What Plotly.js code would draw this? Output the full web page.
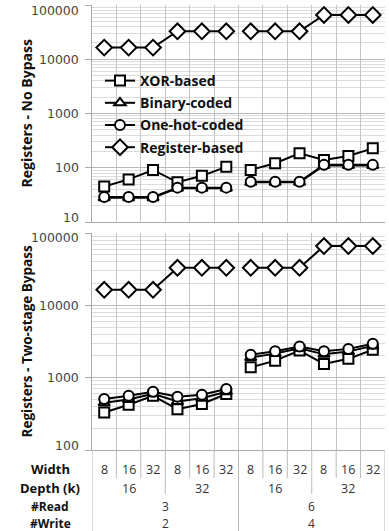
<!DOCTYPE html>
<html><head>
<script src="https://cdn.plot.ly/plotly-3.0.1.min.js"></script>
<style>body{margin:0;background:#fff}</style>
</head><body>
<div id="chart" style="width:389px;height:531px"></div>
<script>
// ---- data ----
const widths = ['8','16','32','8','16','32','8','16','32','8','16','32'];
const depths = ['16','32','16','32'];
const reads  = ['3','6'];
const writes = ['2','4'];
const seriesNames = ['XOR-based','Binary-coded','One-hot-coded','Register-based'];
const symbols = ['square','triangle-up','circle','diamond'];

// Registers - No Bypass
const noBypassXOR      = [45, 61, 91, 54, 71, 104, 91, 121, 185, 139, 165, 228];
const noBypassBinary   = [28, 28, 28, 42, 42, 42, 54, 54, 54, 110, 110, 110];
const noBypassOneHot   = [29, 29, 29, 43, 43, 43, 55, 55, 55, 113, 113, 113];
const noBypassRegister = [16384, 16384, 16384, 32768, 32768, 32768, 32768, 32768, 32768, 65536, 65536, 65536];

// Registers - Two-stage Bypass
const twoStageXOR      = [330, 422, 562, 367, 432, 594, 1390, 1720, 2370, 1550, 1820, 2430];
const twoStageBinary   = [450, 500, 600, 470, 520, 640, 1900, 2150, 2550, 2100, 2300, 2750];
const twoStageOneHot   = [506, 562, 640, 545, 580, 697, 2080, 2320, 2700, 2320, 2500, 2940];
const twoStageRegister = [16400, 16400, 16400, 33000, 33000, 33000, 33000, 33000, 33000, 66000, 66000, 66000];

const topTicks = [10, 100, 1000, 10000, 100000];
const topTickText = ['10','100','1000','10000','100000'];
const botTicks = [100, 1000, 10000, 100000];
const botTickText = ['100','1000','10000','100000'];

// ---- build ----
const idx = widths.map((_, i) => i);
const traces = [];
function addSeries(k, vals, yax, xax, showLeg) {
  const n = widths.length / reads.length;
  for (let g = 0; g < reads.length; g++) {
    traces.push({
      type: 'scatter', mode: 'lines+markers',
      x: idx.slice(g*n, g*n+n), y: vals.slice(g*n, g*n+n),
      xaxis: xax, yaxis: yax,
      name: seriesNames[k], legendgroup: seriesNames[k],
      showlegend: showLeg && g === 0,
      line: {color: '#000', width: 2},
      marker: {symbol: symbols[k], size: k === 3 ? 12 : 10, color: '#fff', line: {color: '#000', width: 2}},
      cliponaxis: false
    });
  }
}
[noBypassXOR, noBypassBinary, noBypassOneHot, noBypassRegister].forEach((v, k) => addSeries(k, v, 'y', 'x', true));
[twoStageXOR, twoStageBinary, twoStageOneHot, twoStageRegister].forEach((v, k) => addSeries(k, v, 'y2', 'x2', false));

const W = 389, H = 531, L = 92, R = 4, T = 5, B = 81;
const ph = H - T - B;
const topDomain = [(450 - 222) / ph, 1];
const botDomain = [0, (450 - 233) / ph];
function py(pix) { return (450 - pix) / ph; }
function px(pix) { return (pix - L) / (W - L - R); }

const gridC = '#c4c4c4';
const xaxisBase = {
  range: [-0.5, widths.length - 0.5], tick0: -0.5, dtick: 1,
  showgrid: true, gridcolor: gridC, gridwidth: 1,
  showticklabels: false, ticks: '', zeroline: false,
  showline: true, linecolor: '#aaa', linewidth: 1
};
function yaxisBase(rng, tv, dom) {
  return {
    type: 'log', range: rng, domain: dom,
    tickvals: tv, showticklabels: false,
    showgrid: true, gridcolor: '#b8b8b8', gridwidth: 1,
    minor: {dtick: 'D1', showgrid: true, gridcolor: '#dcdcdc', gridwidth: 1, ticks: ''},
    ticks: 'outside', ticklen: 6, tickcolor: '#aaa',
    showline: true, linecolor: '#aaa', linewidth: 1,
    zeroline: false
  };
}

const boldFont = s => ({family: 'Open Sans, sans-serif', size: s, color: '#111', weight: 'bold'});
const valFont = {family: 'Open Sans, sans-serif', size: 12.5, color: '#333'};
const smallValFont = {family: 'Open Sans, sans-serif', size: 12, color: '#333'};
const yTickFont = {family: 'DejaVu Sans, sans-serif', size: 12.5, color: '#444'};
const annotations = [
  {text: 'Registers - No Bypass', xref: 'paper', yref: 'paper', x: px(26), y: (topDomain[0]+topDomain[1])/2,
   textangle: -90, showarrow: false, font: boldFont(14), xanchor: 'center', yanchor: 'middle'},
  {text: 'Registers - Two-stage Bypass', xref: 'paper', yref: 'paper', x: px(26), y: (botDomain[0]+botDomain[1])/2,
   textangle: -90, showarrow: false, font: boldFont(13.5), xanchor: 'center', yanchor: 'middle'}
];
// y tick labels, kept inside their own panel at the panel edges
function addYLabels(tv, tt, yref, rng) {
  tv.forEach((v, i) => {
    const lv = Math.log10(v);
    let ys = 0;
    if (Math.abs(lv - rng[1]) < 1e-9) ys = -5;
    if (Math.abs(lv - rng[0]) < 1e-9) ys = 5;
    annotations.push({text: tt[i], xref: 'paper', yref: yref, x: px(81), y: lv, yshift: ys,
      xanchor: 'right', yanchor: 'middle', showarrow: false, font: yTickFont});
  });
}
addYLabels(topTicks, topTickText, 'y', [1, 5]);
addYLabels(botTicks, botTickText, 'y2', [2, 5]);

const rowY = [py(469), py(488), py(506), py(523)];
const rowNames = ['Width', 'Depth (k)', '#Read', '#Write'];
const rowSizes = [13, 13, 12, 12];
rowNames.forEach((t, r) => annotations.push({text: t, xref: 'paper', yref: 'paper', x: px(50), y: rowY[r],
  showarrow: false, font: boldFont(rowSizes[r]), xanchor: 'center', yanchor: 'middle'}));
widths.forEach((t, i) => annotations.push({text: t, xref: 'x2', yref: 'paper', x: i, y: rowY[0],
  showarrow: false, font: valFont, xanchor: 'center', yanchor: 'middle'}));
const dSpan = widths.length / depths.length;
depths.forEach((t, i) => annotations.push({text: t, xref: 'x2', yref: 'paper', x: i*dSpan + (dSpan-1)/2, y: rowY[1],
  showarrow: false, font: valFont, xanchor: 'center', yanchor: 'middle'}));
const rSpan = widths.length / reads.length;
reads.forEach((t, i) => annotations.push({text: t, xref: 'x2', yref: 'paper', x: i*rSpan + (rSpan-1)/2, y: rowY[2],
  showarrow: false, font: smallValFont, xanchor: 'center', yanchor: 'middle'}));
writes.forEach((t, i) => annotations.push({text: t, xref: 'x2', yref: 'paper', x: i*rSpan + (rSpan-1)/2, y: rowY[3],
  showarrow: false, font: smallValFont, xanchor: 'center', yanchor: 'middle'}));

// separators in label area
const shapes = [];
for (let b = 0; b <= widths.length; b++) {
  let yEnd = py(478);
  if (b % rSpan === 0) yEnd = py(531);
  else if (b % dSpan === 0) yEnd = py(494);
  shapes.push({type: 'line', xref: 'x2', yref: 'paper', x0: b - 0.5, x1: b - 0.5, y0: 0, y1: yEnd,
    line: {color: '#bbb', width: 1}});
}

const layout = {
  width: W, height: H,
  margin: {l: L, r: R, t: T, b: B},
  paper_bgcolor: '#fff', plot_bgcolor: '#fff',
  showlegend: true,
  legend: {x: px(100), y: py(65), xref: 'paper', yref: 'paper', xanchor: 'left', yanchor: 'top',
    bgcolor: 'rgba(0,0,0,0)', borderwidth: 0, font: {family: 'Open Sans, sans-serif', size: 14, color: '#111', weight: 'bold'},
    tracegroupgap: 1, itemwidth: 30},
  xaxis: Object.assign({}, xaxisBase, {anchor: 'y', domain: [0, 1]}),
  xaxis2: Object.assign({}, xaxisBase, {anchor: 'y2', domain: [0, 1]}),
  yaxis: Object.assign(yaxisBase([1, 5], topTicks, topDomain), {anchor: 'x'}),
  yaxis2: Object.assign(yaxisBase([2, 5], botTicks, botDomain), {anchor: 'x2'}),
  annotations: annotations,
  shapes: shapes
};
Plotly.newPlot('chart', traces, layout, {displayModeBar: false, staticPlot: true});
</script>
</body></html>
